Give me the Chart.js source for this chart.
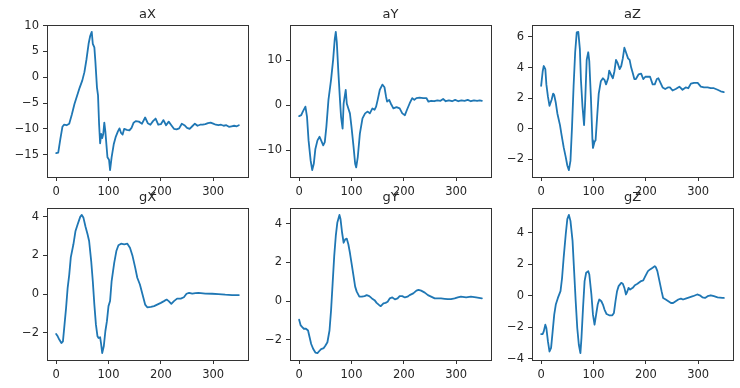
<!DOCTYPE html>
<html>
<head>
<meta charset="utf-8">
<script src="https://cdn.jsdelivr.net/npm/chart.js@4.4.1/dist/chart.umd.min.js"></script>
<style>
html, body { margin: 0; padding: 0; background: #fff; }
body { width: 740px; height: 388px; position: relative; overflow: hidden; }
canvas { position: absolute; }
</style>
</head>
<body>
<canvas id="c0" width="254" height="202" style="left:0px;top:0px"></canvas>
<canvas id="c1" width="254" height="202" style="left:243px;top:0px"></canvas>
<canvas id="c2" width="254" height="202" style="left:485px;top:0px"></canvas>
<canvas id="c3" width="254" height="202" style="left:0px;top:183px"></canvas>
<canvas id="c4" width="254" height="202" style="left:243px;top:183px"></canvas>
<canvas id="c5" width="254" height="202" style="left:485px;top:183px"></canvas>
<script>
// subplot titles
const titles = ['aX', 'aY', 'aZ', 'gX', 'gY', 'gZ'];

// x axis ticks (shared)
const xTicks = [0, 100, 200, 300];
const xTickLabels = ['0', '100', '200', '300'];

// y axis ticks per subplot
const aXTicks = [-15, -10, -5, 0, 5, 10];
const aXTickLabels = ['\u221215', '\u221210', '\u22125', '0', '5', '10'];
const aYTicks = [-10, 0, 10];
const aYTickLabels = ['\u221210', '0', '10'];
const aZTicks = [-2, 0, 2, 4, 6];
const aZTickLabels = ['\u22122', '0', '2', '4', '6'];
const gXTicks = [-2, 0, 2, 4];
const gXTickLabels = ['\u22122', '0', '2', '4'];
const gYTicks = [-2, 0, 2, 4];
const gYTickLabels = ['\u22122', '0', '2', '4'];
const gZTicks = [-4, -2, 0, 2, 4];
const gZTickLabels = ['\u22124', '\u22122', '0', '2', '4'];

// series, [sample index, value]
const aXPts = [[0,-14.7],[4,-14.6],[8,-12.0],[12,-9.6],[15,-9.2],[20,-9.3],[25,-9.0],[30,-7.2],[35,-5.2],[40,-3.6],
  [45,-2.0],[50,-0.6],[54,1.0],[58,3.5],[62,6.5],[65,8.0],[68,8.8],[70,6.5],[73,5.8],[75,3.0],
  [78,-2.0],[80,-3.5],[82,-9.0],[84,-12.8],[86,-11.0],[88,-11.8],[90,-11.0],[92,-8.8],[94,-10.5],[96,-13.0],
  [98,-15.5],[101,-16.0],[103,-18.0],[106,-15.5],[110,-13.0],[114,-11.5],[118,-10.5],[121,-9.9],[124,-10.8],[127,-11.1],
  [130,-10.0],[135,-10.2],[140,-10.3],[144,-9.8],[148,-8.8],[152,-8.5],[158,-8.6],[164,-9.0],[170,-7.8],[175,-8.9],
  [180,-9.2],[185,-8.5],[190,-8.0],[195,-9.2],[200,-9.1],[205,-8.3],[210,-9.3],[215,-8.6],[220,-9.3],[225,-10.0],
  [230,-10.1],[235,-9.9],[240,-9.0],[245,-9.3],[250,-9.8],[255,-10.0],[260,-9.5],[265,-9.0],[270,-9.4],[275,-9.2],
  [280,-9.2],[285,-9.1],[290,-8.9],[295,-8.8],[300,-9.0],[305,-9.2],[310,-9.3],[315,-9.2],[320,-9.4],[325,-9.3],
  [330,-9.6],[335,-9.5],[340,-9.4],[345,-9.5],[349,-9.3]];

const aYPts = [[0,-2.4],[4,-2.2],[7,-1.4],[12,-0.3],[15,-2.5],[18,-7.8],[22,-12.3],[25,-14.4],[28,-13.0],[31,-9.7],
  [35,-7.8],[39,-7.0],[42,-7.8],[46,-8.9],[49,-8.2],[52,-4.8],[56,1.2],[61,5.7],[65,10.2],[68,14.7],
  [70,16.3],[72,13.9],[75,7.2],[78,1.2],[80,-2.5],[83,-5.2],[85,0.4],[89,3.4],[91,0.4],[94,-0.7],
  [97,-1.8],[100,-4.8],[104,-9.3],[107,-13.0],[109,-13.8],[112,-11.5],[116,-6.3],[121,-2.9],[126,-1.8],[131,-1.4],
  [135,-1.8],[140,-0.7],[144,-1.0],[147,-0.3],[150,1.2],[154,3.4],[159,4.6],[163,4.0],[166,1.9],[168,0.8],
  [172,1.2],[175,0.4],[180,-0.7],[186,-0.4],[192,-0.7],[197,-1.8],[202,-2.2],[206,-1.0],[211,0.4],[216,1.6],
  [220,1.2],[224,1.6],[230,1.7],[237,1.6],[243,1.6],[247,0.8],[252,1.0],[258,0.9],[264,1.1],[270,1.0],
  [275,1.4],[280,0.9],[286,1.1],[292,0.9],[298,1.2],[304,0.9],[310,1.1],[316,1.0],[322,1.2],[328,0.9],
  [334,1.1],[340,1.0],[345,1.1],[349,1.0]];

const aZPts = [[0,2.8],[3,3.76],[5,4.1],[8,3.9],[10,2.9],[13,2.1],[16,1.5],[20,1.9],[23,2.3],[25,2.2],
  [28,1.7],[31,1.0],[36,0.24],[39,-0.4],[43,-1.2],[47,-1.85],[50,-2.4],[53,-2.7],[56,-2.1],[59,0.13],
  [62,2.8],[65,5.0],[68,6.3],[71,6.33],[74,5.2],[76,3.2],[79,1.45],[82,0.24],[84,1.67],[87,4.5],
  [90,5.0],[92,4.4],[95,2.1],[98,-0.75],[99,-1.25],[102,-0.85],[104,-0.75],[107,0.8],[110,2.3],[114,3.1],
  [118,3.3],[121,3.2],[124,2.9],[128,3.3],[130,3.8],[134,3.5],[137,3.3],[140,3.76],[143,4.5],[146,4.3],
  [150,3.9],[153,4.1],[156,4.6],[159,5.3],[162,5.0],[166,4.6],[169,4.5],[172,4.0],[175,3.65],[178,3.25],
  [181,3.25],[186,3.55],[191,3.6],[195,3.25],[199,3.4],[204,3.4],[208,3.4],[213,2.9],[217,2.9],[221,3.25],
  [224,3.3],[228,3.0],[232,2.7],[237,2.6],[242,2.7],[246,2.7],[251,2.5],[257,2.6],[264,2.75],[270,2.55],
  [276,2.7],[281,2.65],[286,2.95],[292,3.0],[299,3.0],[305,2.75],[311,2.7],[318,2.7],[324,2.65],[330,2.65],
  [337,2.55],[343,2.45],[349,2.4]];

const gXPts = [[0,-2.06],[3,-2.18],[6,-2.35],[10,-2.53],[13,-2.44],[16,-1.58],[19,-0.71],[22,0.33],[25,1.0],[28,1.9],
  [33,2.58],[37,3.27],[41,3.6],[46,4.0],[49,4.1],[52,3.97],[56,3.5],[60,3.1],[63,2.75],[67,1.7],
  [70,0.68],[73,-0.54],[76,-1.58],[79,-2.18],[81,-2.27],[84,-2.23],[86,-2.6],[88,-3.05],[91,-2.7],[94,-1.92],
  [97,-1.4],[100,-0.62],[103,-0.36],[106,0.68],[111,1.63],[115,2.23],[119,2.53],[124,2.61],[130,2.58],[136,2.61],
  [141,2.4],[146,1.97],[151,1.37],[155,0.85],[160,0.5],[165,-0.02],[170,-0.54],[174,-0.68],[181,-0.66],[187,-0.62],
  [193,-0.54],[200,-0.45],[206,-0.36],[211,-0.28],[215,-0.36],[220,-0.5],[225,-0.36],[231,-0.23],[238,-0.23],[244,-0.16],
  [249,0.02],[254,0.07],[260,0.03],[266,0.05],[272,0.07],[285,0.03],[298,0.02],[310,0.0],[323,-0.03],[336,-0.05],
  [349,-0.05]];

const gYPts = [[0,-0.96],[3,-1.26],[6,-1.35],[9,-1.43],[13,-1.43],[17,-1.52],[20,-1.87],[23,-2.22],[27,-2.48],[31,-2.66],
  [35,-2.69],[39,-2.57],[42,-2.48],[47,-2.43],[50,-2.31],[54,-2.13],[58,-1.52],[61,-0.47],[64,0.93],[67,2.33],
  [70,3.37],[73,4.07],[77,4.46],[79,4.25],[82,3.55],[85,3.02],[88,3.2],[91,3.23],[94,2.94],[97,2.5],
  [100,1.98],[104,1.28],[107,0.75],[110,0.49],[115,0.23],[120,0.23],[125,0.26],[129,0.31],[134,0.26],[139,0.14],
  [144,0.05],[148,-0.09],[153,-0.21],[156,-0.26],[161,-0.12],[165,-0.09],[169,-0.03],[173,0.14],[178,0.19],[183,0.09],
  [188,0.14],[192,0.26],[197,0.26],[202,0.19],[207,0.23],[211,0.31],[218,0.4],[224,0.54],[228,0.58],[233,0.54],
  [240,0.44],[246,0.31],[252,0.23],[259,0.14],[265,0.14],[271,0.14],[278,0.12],[284,0.1],[290,0.1],[297,0.14],
  [303,0.19],[309,0.23],[319,0.19],[328,0.23],[338,0.19],[349,0.14]];

const gZPts = [[0,-2.42],[3,-2.42],[5,-2.25],[8,-1.83],[10,-2.04],[13,-2.89],[16,-3.53],[19,-3.3],[22,-2.25],[25,-1.19],
  [28,-0.55],[32,-0.13],[37,0.3],[40,1.15],[43,2.42],[47,3.91],[50,4.87],[53,5.14],[56,4.76],[60,3.49],
  [63,1.57],[66,-0.34],[69,-2.04],[72,-3.1],[75,-3.63],[77,-2.68],[80,-0.77],[83,0.94],[86,1.47],[90,1.57],
  [92,1.36],[96,0.09],[99,-1.19],[102,-1.83],[105,-1.19],[108,-0.55],[111,-0.23],[115,-0.34],[118,-0.55],[121,-0.87],
  [125,-1.15],[130,-1.23],[136,-1.23],[139,-1.08],[142,-0.34],[145,0.3],[148,0.62],[153,0.83],[156,0.77],[159,0.51],
  [162,0.09],[164,0.23],[167,0.51],[170,0.4],[175,0.51],[179,0.68],[184,0.77],[191,0.94],[195,0.98],[199,1.25],
  [204,1.57],[208,1.68],[213,1.79],[217,1.89],[219,1.83],[222,1.57],[226,0.94],[230,0.3],[233,-0.13],[238,-0.23],
  [243,-0.34],[248,-0.45],[252,-0.45],[257,-0.34],[262,-0.23],[267,-0.17],[271,-0.23],[276,-0.17],[283,-0.09],[290,-0.02],
  [298,0.09],[303,0.04],[308,-0.09],[313,-0.13],[318,-0.02],[324,0.04],[330,-0.02],[337,-0.09],[346,-0.13],[349,-0.13]];

const seriesPts = [aXPts, aYPts, aZPts, gXPts, gYPts, gZPts];
const yTicksAll = [aXTicks, aYTicks, aZTicks, gXTicks, gYTicks, gZTicks];
const yLabelsAll = [aXTickLabels, aYTickLabels, aZTickLabels, gXTickLabels, gYTickLabels, gZTickLabels];

const textColor = '#262626';
const fontFam = '"DejaVu Sans", sans-serif';

// matplotlib style 5% margins
function padRange(vals) {
  var lo = Math.min(...vals), hi = Math.max(...vals);
  var m = (hi - lo) * 0.05;
  return [lo - m, hi + m];
}

// frame around the axes + title on top
const frameTitle = {
  id: 'frameTitle',
  afterDraw(chart, args, opts) {
    const a = chart.chartArea, c = chart.ctx;
    c.save();
    c.strokeStyle = '#333';
    c.lineWidth = 1;
    c.strokeRect(Math.round(a.left) + 0.5, Math.round(a.top) + 0.5,
      Math.round(a.right - a.left), Math.round(a.bottom - a.top));
    c.fillStyle = textColor;
    c.font = '13px ' + fontFam;
    c.textAlign = 'center';
    c.textBaseline = 'alphabetic';
    c.fillText(opts.text, (a.left + a.right) / 2, a.top - 7);
    c.restore();
  }
};

seriesPts.forEach(function (pts, i) {
  var xr = padRange(pts.map(p => p[0]));
  var yr = padRange(pts.map(p => p[1]));
  var ticksY = yTicksAll[i], labelsY = yLabelsAll[i];
  new Chart(document.getElementById('c' + i), {
    type: 'line',
    data: {
      datasets: [{
        data: pts.map(p => ({ x: p[0], y: p[1] })),
        borderColor: '#1f77b4',
        borderWidth: 1.8,
        borderJoinStyle: 'round',
        borderCapStyle: 'round',
        pointRadius: 0,
        tension: 0,
        fill: false
      }]
    },
    options: {
      responsive: false,
      animation: false,
      events: [],
      layout: { padding: { top: 25, right: 6, left: 0, bottom: 0 } },
      plugins: {
        legend: { display: false },
        tooltip: { enabled: false },
        frameTitle: { text: titles[i] }
      },
      scales: {
        x: {
          type: 'linear',
          min: xr[0], max: xr[1],
          afterFit: s => { s.height = 25; },
          afterBuildTicks: s => { s.ticks = xTicks.map(v => ({ value: v })); },
          border: { display: false },
          grid: { drawOnChartArea: false, drawTicks: true, tickLength: 4, color: '#333', lineWidth: 1 },
          ticks: {
            autoSkip: false, maxRotation: 0, padding: 4,
            color: textColor, font: { family: fontFam, size: 11.5 },
            callback: (v, k) => xTickLabels[k]
          }
        },
        y: {
          type: 'linear',
          min: yr[0], max: yr[1],
          afterFit: s => { s.width = 47; },
          afterBuildTicks: s => { s.ticks = ticksY.map(v => ({ value: v })); },
          border: { display: false },
          grid: { drawOnChartArea: false, drawTicks: true, tickLength: 4, color: '#333', lineWidth: 1 },
          ticks: {
            autoSkip: false, padding: 4,
            color: textColor, font: { family: fontFam, size: 11.5 },
            callback: (v, k) => labelsY[k]
          }
        }
      }
    },
    plugins: [frameTitle]
  });
});
</script>
</body>
</html>
